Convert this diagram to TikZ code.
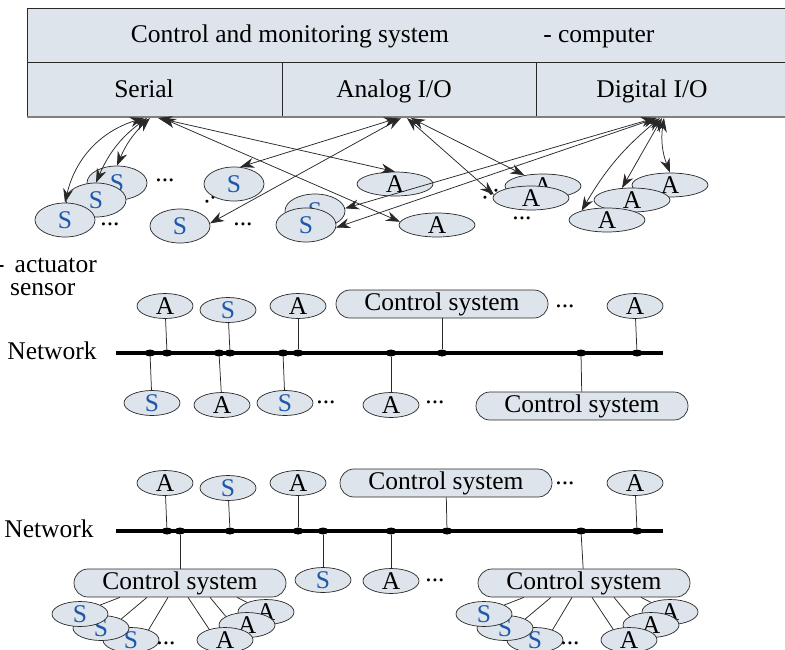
\documentclass[tikz,border=0pt]{standalone}
\usepackage{fontspec}
\setmainfont{Liberation Serif}
\usetikzlibrary{calc,arrows.meta,shapes.geometric,positioning}

\definecolor{cellfill}{RGB}{222,228,235}
\definecolor{sensblue}{RGB}{30,88,170}
\definecolor{edge}{RGB}{40,40,40}

\tikzset{
  frame/.style={draw=edge, line width=0.8pt},
  sens/.style={ellipse, draw=edge, line width=0.7pt, fill=cellfill,
    text=sensblue, inner sep=0pt, minimum width=60pt, minimum height=34pt},
  act/.style={sens, text=black, minimum width=76pt, minimum height=24pt},
  nsens/.style={sens, minimum width=56pt, minimum height=25pt},
  nact/.style={act, minimum width=56pt, minimum height=25pt},
  ctrl/.style={rectangle, rounded corners=14pt, draw=edge, line width=0.7pt,
    fill=cellfill, inner sep=0pt, minimum width=212pt, minimum height=28pt},
  bus/.style={line width=4pt},
  tap/.style={ellipse, fill=black, inner sep=0pt,
    minimum width=11pt, minimum height=7pt},
  link/.style={draw=edge, line width=0.75pt},
  io/.style={link, {Stealth[length=14pt,width=10pt]}-{Stealth[length=14pt,width=10pt]}},
  dots/.style={inner sep=0pt},
}

\begin{document}
\begin{tikzpicture}[x=1pt,y=-1pt,font=\fontsize{25.5}{30}\selectfont]
  \useasboundingbox (0,0) rectangle (785,649);
  \clip (0,0) rectangle (785,649);

  % computer
  \fill[cellfill] (27,8) rectangle (790,116);
  \draw[frame] (27,8) rectangle (790,116);
  \draw[frame] (27,62) -- (790,62);
  \draw[frame] (282,62) -- (282,116);
  \draw[frame] (536,62) -- (536,116);
  \draw[gray, line width=2pt] (27,117) -- (790,117);
  \node[anchor=base] (title) at (290,42) {Control and monitoring system};
  \node[anchor=base east] (comp) at (658,42) {- computer};
  \node[anchor=base] (serial) at (144,97) {Serial};
  \node[anchor=base] (analog) at (394,97) {Analog I/O};
  \node[anchor=base] (digital) at (652,97) {Digital I/O};
  \coordinate (pSer) at (150,118);
  \coordinate (pAna) at (403,118);
  \coordinate (pDig) at (660,118);

  % sensors and actuators wired to the ports
  \node[sens] (sL1) at (117,183) {S};
  \node[sens] (sL2) at (96,200) {S};
  \node[sens] (sL3) at (65,220) {S};
  \node[dots] at (165,180) {...};
  \node[dots] at (110,224) {...};
  \node[dots, rotate=35] at (213,198) {...};
  \node[sens] (sM1) at (234,184) {S};
  \node[sens] (sM2) at (180,226) {S};
  \node[dots] at (243,224) {...};
  \node[sens] (sR1) at (315,211) {S};
  \node[sens] (sR2) at (306,225) {S};
  \node[act] (aM1) at (395,184) {A};
  \node[act] (aM2) at (437,225) {A};
  \node[dots, rotate=35] at (491,194) {...};
  \node[act] (aR1) at (543,186) {A};
  \node[act] (aR2) at (531,198) {A};
  \node[dots] at (522,218) {...};
  \node[act] (aD1) at (670,185) {A};
  \node[act] (aD2) at (632,200) {A};
  \node[act] (aD3) at (607,220) {A};

  \draw[io] ([xshift=-6pt]pSer) to[bend right=30] (sL3.north);
  \draw[io] ([xshift=-3pt]pSer) to[bend right=15] (sL2.north);
  \draw[io] (pSer) to[bend right=12] (sL1.north);
  \draw[io] ([xshift=8pt]pSer) -- (aM1.north);
  \draw[io] ([xshift=12pt]pSer) -- (aM2.175);
  \draw[io] ([xshift=-5pt]pAna) -- (sM1.70);
  \draw[io] ([xshift=-2pt]pAna) -- (sM2.5);
  \draw[io] ([xshift=4pt]pAna) -- (aR2.175);
  \draw[io] ([xshift=8pt]pAna) -- (aR1.150);
  \draw[io] ([xshift=-5pt]pDig) -- (sR1.5);
  \draw[io] ([xshift=-3pt]pDig) -- (sR2.-5);
  \draw[io] (pDig) to[bend right=10] (aD3.160);
  \draw[io] ([xshift=2pt]pDig) -- (aD2.130);
  \draw[io] ([xshift=4pt]pDig) to[bend right=15] (aD1.north);

  % legend
  \node[anchor=base west, inner sep=0pt] (legA) at (-4,272) {-\hspace{10pt}actuator};
  \node[anchor=base west, inner sep=0pt] (legS) at (10,295) {sensor};

  % first network
  \node (net1) at (52,351) {Network};
  \draw[bus] (116,353) -- (663,353);
  \foreach \n/\x in {1/150,2/167,3/219,4/230,5/283,6/298,7/391,8/442,9/581,10/637}
    \node[tap] (ta\n) at (\x,353) {};
  \node[nact] (a1) at (165,306) {A};
  \node[nsens] (a2) at (228,310) {S};
  \node[nact] (a3) at (298,306) {A};
  \node[ctrl] (a4) at (442,304) {Control system};
  \node[dots] at (565,306) {...};
  \node[nact] (a5) at (635,306) {A};
  \node[nsens] (b1) at (152,403) {S};
  \node[nact] (b2) at (222,405) {A};
  \node[nsens] (b3) at (285,403) {S};
  \node[dots] at (326,402) {...};
  \node[nact] (b4) at (391,405) {A};
  \node[dots] at (435,402) {...};
  \node[ctrl] (b5) at (582,406) {Control system};
  \draw[link] (a1) -- (ta2);
  \draw[link] (a2) -- (ta4);
  \draw[link] (a3) -- (ta6);
  \draw[link] (a4) -- (ta8);
  \draw[link] (a5) -- (ta10);
  \draw[link] (b1) -- (ta1);
  \draw[link] (b2) -- (ta3);
  \draw[link] (b3) -- (ta5);
  \draw[link] (b4) -- (ta7);
  \draw[link] (b5) -- (ta9);

  % second network
  \node (net2) at (49,529) {Network};
  \draw[bus] (116,531) -- (663,531);
  \foreach \n/\x in {1/167,2/180,3/230,4/298,5/323,6/391,7/447,8/581,9/637}
    \node[tap] (tb\n) at (\x,531) {};
  \node[nact] (c1) at (165,483) {A};
  \node[nsens] (c2) at (228,488) {S};
  \node[nact] (c3) at (298,483) {A};
  \node[ctrl] (c4) at (446,483) {Control system};
  \node[dots] at (565,483) {...};
  \node[nact] (c5) at (635,483) {A};
  \node[ctrl] (csL) at (180,583) {Control system};
  \node[nsens] (d1) at (323,580) {S};
  \node[nact] (d2) at (391,581) {A};
  \node[dots] at (435,580) {...};
  \node[ctrl] (csR) at (584,583) {Control system};
  \draw[link] (c1) -- (tb1);
  \draw[link] (c2) -- (tb3);
  \draw[link] (c3) -- (tb4);
  \draw[link] (c4) -- (tb7);
  \draw[link] (c5) -- (tb9);
  \draw[link] (csL) -- (tb2);
  \draw[link] (d1) -- (tb5);
  \draw[link] (d2) -- (tb6);
  \draw[link] (csR) -- (tb8);

  % local devices of each control system
  \foreach \g in {csL,csR}{
    \node[nsens] (\g-s3) at ($(\g)+(-49,57)$) {S};
    \node[nsens] (\g-s2) at ($(\g)+(-79,45)$) {S};
    \node[nsens] (\g-s1) at ($(\g)+(-100,31)$) {S};
    \node[dots] at ($(\g)+(-14,60)$) {...};
    \node[nact] (\g-a1) at ($(\g)+(86,29)$) {A};
    \node[nact] (\g-a2) at ($(\g)+(67,42)$) {A};
    \node[nact] (\g-a3) at ($(\g)+(45,57)$) {A};
    \draw[link] ([xshift=-60pt]\g.south) -- (\g-s1.24);
    \draw[link] ([xshift=-33pt]\g.south) -- (\g-s2.24);
    \draw[link] ([xshift=-12pt]\g.south) -- (\g-s3.30);
    \draw[link] ([xshift=8pt]\g.south) -- (\g-a3.146);
    \draw[link] ([xshift=30pt]\g.south) -- (\g-a2.158);
    \draw[link] ([xshift=57pt]\g.south) -- (\g-a1.153);
  }
\end{tikzpicture}
\end{document}
